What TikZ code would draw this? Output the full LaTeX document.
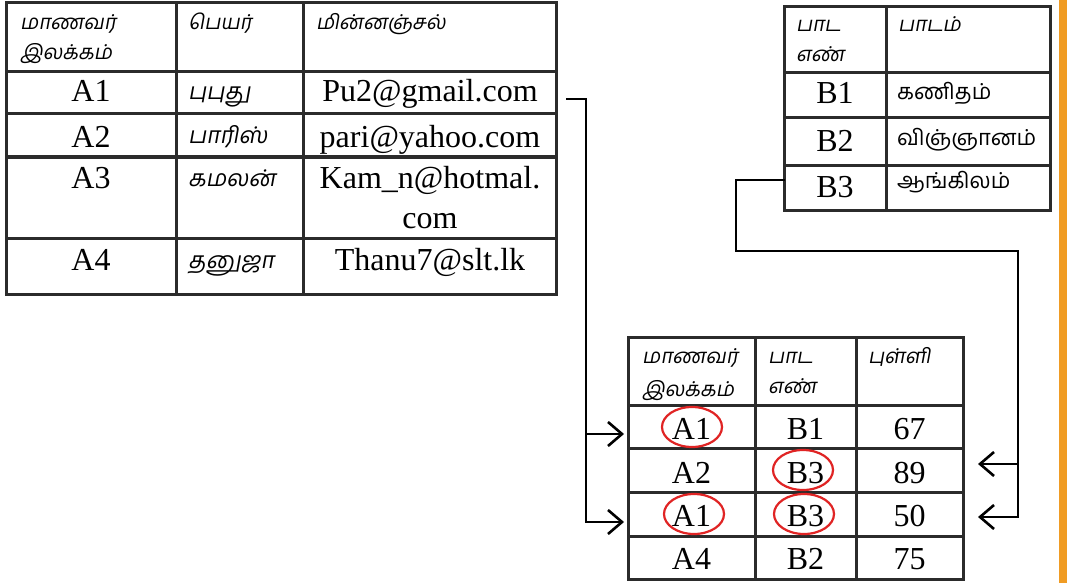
\documentclass[tikz,border=0pt]{standalone}
\usepackage{fontspec}
\setmainfont{Liberation Serif}
\newfontfamily\tam[Script=Tamil]{Hind Madurai}
\newfontfamily\tamsl[Script=Tamil,FakeSlant=0.18]{Hind Madurai}
\usetikzlibrary{arrows.meta,shapes.geometric}
\definecolor{gridc}{HTML}{2B2B2B}
\definecolor{orng}{HTML}{F09C24}
\definecolor{redc}{HTML}{E02424}
\begin{document}
\begin{tikzpicture}[x=1pt,y=-1pt,
  grid/.style={draw=gridc,line width=3pt},
  lat/.style={font=\fontsize{32}{32}\selectfont,anchor=base,inner sep=0pt},
  thd/.style={font=\tamsl\fontsize{20.5}{20.5}\selectfont,anchor=base west,inner sep=0pt},
  tdt/.style={font=\tamsl\fontsize{23}{23}\selectfont,anchor=base west,inner sep=0pt},
  tup/.style={font=\tam\fontsize{22}{22}\selectfont,anchor=base west,inner sep=0pt},
  conn/.style={draw=black,line width=2.9pt},
  arr/.style={conn,-{Straight Barb[length=14pt,width=24pt,line width=2.6pt]}},
  ring/.style={draw=redc,line width=2.2pt,ellipse,minimum width=60pt,minimum height=40pt,inner sep=0pt}
]
\useasboundingbox[fill=white] (0,0) rectangle (1068,583);
% orange bar
\fill[orng] (1059,0) rectangle (1067,583);

% ---------- table 1 ----------
\draw[grid] (6,3) rectangle (556,294);
\draw[grid] (176,3) -- (176,294) (303,3) -- (303,294);
\draw[grid] (6,72) -- (556,72) (6,114) -- (556,114) (6,157) -- (556,157) (6,238) -- (556,238);
\node[thd] (h11) at (20,30) {மாணவர்};
\node[thd] (h12) at (20,60) {இலக்கம்};
\node[thd] (h13) at (188,30) {பெயர்};
\node[thd] (h14) at (316,30) {மின்னஞ்சல்};
\node[lat] (a1) at (91,102) {A1};
\node[tdt] (n1) at (188,100) {புபுது};
\node[lat] (e1) at (430,102) {Pu2@gmail.com};
\node[lat] (a2) at (91,147) {A2};
\node[tdt] (n2) at (188,144) {பாரிஸ்};
\node[lat] (e2) at (430,147) {pari@yahoo.com};
\node[lat] (a3) at (91,188) {A3};
\node[tdt] (n3) at (188,186) {கமலன்};
\node[lat] (e3) at (430,188) {Kam\_n@hotmal.};
\node[lat] (e3b) at (430,228) {com};
\node[lat] (a4) at (91,270) {A4};
\node[tdt] (n4) at (188,268) {தனுஜா};
\node[lat] (e4) at (430,270) {Thanu7@slt.lk};

% ---------- table 2 ----------
\draw[grid] (784,7) rectangle (1050,210);
\draw[grid] (886,7) -- (886,210);
\draw[grid] (784,73) -- (1050,73) (784,118) -- (1050,118) (784,165) -- (1050,165);
\node[thd] (h21) at (796,32) {பாட};
\node[thd] (h22) at (796,62) {எண்};
\node[thd] (h23) at (898,32) {பாடம்};
\node[lat] (b1) at (835,104) {B1};
\node[tup] (s1) at (897,100) {கணிதம்};
\node[lat] (b2) at (835,152) {B2};
\node[tup] (s2) at (897,146) {விஞ்ஞானம்};
\node[lat] (b3) at (835,197) {B3};
\node[tup] (s3) at (897,188) {ஆங்கிலம்};

% ---------- table 3 ----------
\draw[grid] (628,337) rectangle (963,579);
\draw[grid] (755,337) -- (755,579) (856,337) -- (856,579);
\draw[grid] (628,405) -- (963,405) (628,448) -- (963,448) (628,492) -- (963,492) (628,536) -- (963,536);
\node[thd] (h31) at (642,363) {மாணவர்};
\node[thd] (h32) at (642,396) {இலக்கம்};
\node[thd] (h33) at (768,363) {பாட};
\node[thd] (h34) at (768,393) {எண்};
\node[thd] (h35) at (868,363) {புள்ளி};
\node[lat] (m11) at (691.5,439) {A1};
\node[lat] (m12) at (805.5,439) {B1};
\node[lat] (m13) at (909.5,439) {67};
\node[lat] (m21) at (691.5,483) {A2};
\node[lat] (m22) at (805.5,483) {B3};
\node[lat] (m23) at (909.5,483) {89};
\node[lat] (m31) at (691.5,526) {A1};
\node[lat] (m32) at (805.5,526) {B3};
\node[lat] (m33) at (909.5,526) {50};
\node[lat] (m41) at (691.5,569) {A4};
\node[lat] (m42) at (805.5,569) {B2};
\node[lat] (m43) at (909.5,569) {75};

% red rings
\node[ring] (r1) at (692,427) {};
\node[ring] (r2) at (803,470) {};
\node[ring] (r3) at (694,514) {};
\node[ring] (r4) at (804,514) {};

% ---------- connectors ----------
\coordinate (e1out) at (566,99);
\coordinate (lj) at (586,434);
\coordinate (t3r1w) at (624,434);
\coordinate (t3r3w) at (624,522);
\draw[arr] (e1out) -- (586,99) |- (t3r3w);
\draw[arr] (lj) -- (t3r1w);

\coordinate (b3out) at (785,180);
\coordinate (rj) at (1018,464);
\coordinate (t3r2e) at (978,464);
\coordinate (t3r3e) at (978,517);
\draw[arr] (b3out) -- (736,180) -- (736,251) -- (1018,251) |- (t3r3e);
\draw[arr] (rj) -- (t3r2e);
\end{tikzpicture}
\end{document}
